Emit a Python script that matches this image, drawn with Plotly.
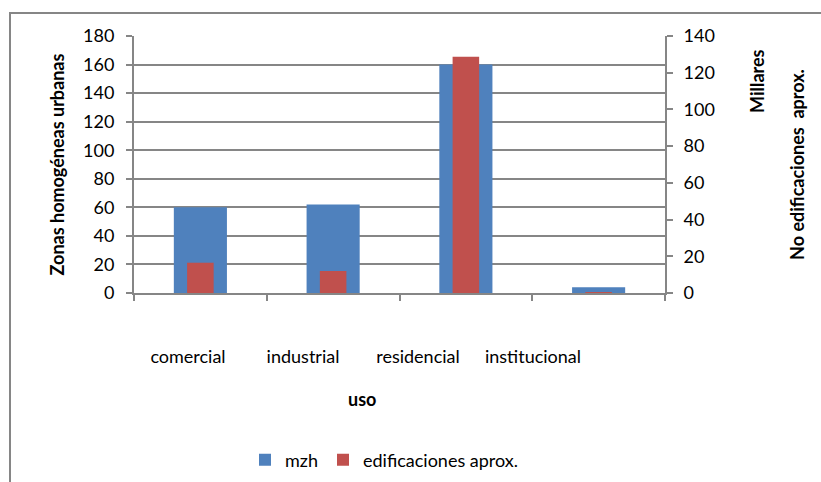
import plotly.graph_objects as go

# Land-use categories
usos = ["comercial", "industrial", "residencial", "institucional"]
# Homogeneous urban zones per use (left axis)
mzh = [60, 62, 160, 4]
# Approximate number of buildings, in thousands (right axis)
edificaciones_miles = [16.5, 12, 128.7, 0.5]

W, H = 821, 482
L, R, T, B = 134, 156, 36, 189
pw, ph = W - L - R, H - T - B

FONT = "Lato"
GRAY = "#868686"
FS = 18

def px_x(x):
    return (x - L) / pw

def px_y(y):
    return (H - B - y) / ph

# Category labels sit on a narrower label band below the plot
lab_first, lab_step, lab_right = 188, 115, 590.5
lab_lo = -(lab_first - L) / lab_step
lab_hi = lab_lo + (lab_right - L) / lab_step

fig = go.Figure()
fig.add_trace(go.Bar(
    x=usos, y=mzh, name="mzh", width=0.4,
    marker=dict(color="#4F81BD", line=dict(width=0)),
    yaxis="y", offsetgroup="a",
))
fig.add_trace(go.Bar(
    x=usos, y=edificaciones_miles, name="edificaciones aprox.", width=0.2,
    marker=dict(color="#C0504D", line=dict(width=0)),
    yaxis="y2", offsetgroup="a",
))
# Carrier for the category label band (no visible marks)
fig.add_trace(go.Scatter(
    x=usos, y=[None] * len(usos), xaxis="x2", yaxis="y3",
    mode="markers", showlegend=False, hoverinfo="skip",
))

fig.update_layout(
    width=W, height=H,
    margin=dict(l=L, r=R, t=T, b=B, autoexpand=False),
    paper_bgcolor="white", plot_bgcolor="rgba(0,0,0,0)",
    font=dict(family=FONT, size=FS, color="black"),
    barmode="overlay",
    showlegend=True,
    legend=dict(
        orientation="h", x=px_x(245), xanchor="left",
        y=px_y(460), yanchor="middle",
        font=dict(size=FS), itemwidth=30, traceorder="normal",
    ),
    xaxis=dict(
        type="category", range=[-0.5, 3.5], automargin=False,
        showline=True, linecolor=GRAY, linewidth=2,
        ticks="outside", tickson="boundaries", ticklen=6, tickcolor=GRAY, tickwidth=2,
        showticklabels=False,
        showgrid=False,
    ),
    xaxis2=dict(
        type="category", anchor="y3", side="bottom", automargin=False,
        domain=[0, (lab_right - L) / pw],
        range=[lab_lo, lab_hi],
        ticks="", showline=False, showgrid=False, zeroline=False,
        ticklabelstandoff=51,
        title=dict(text="<b>uso</b>", standoff=27, font=dict(size=FS)),
    ),
    yaxis=dict(
        range=[0, 180], dtick=20, automargin=False,
        showline=True, linecolor=GRAY, linewidth=2,
        ticks="outside", ticklen=6, tickcolor=GRAY, tickwidth=2,
        ticklabelstandoff=8,
        showgrid=True, gridcolor=GRAY, gridwidth=2, zeroline=False,
        title=dict(text="<b>Zonas homogéneas urbanas</b>", standoff=14, font=dict(size=FS)),
    ),
    yaxis2=dict(
        overlaying="y", side="right", automargin=False,
        range=[0, 140], dtick=20,
        showline=True, linecolor=GRAY, linewidth=2,
        ticks="outside", ticklen=6, tickcolor=GRAY, tickwidth=2,
        ticklabelstandoff=7,
        showgrid=False, zeroline=False,
        title=dict(text="<b>No edificaciones  aprox.</b>", standoff=77, font=dict(size=FS)),
    ),
    yaxis3=dict(
        anchor="x2", domain=[0, 1], range=[0, 1], automargin=False,
        visible=False, showgrid=False, zeroline=False,
    ),
    shapes=[
        dict(type="path", xref="paper", yref="paper",
             path=f"M {px_x(10)} {px_y(490)} L {px_x(10)} {px_y(13)} L {px_x(830)} {px_y(13)}",
             line=dict(color=GRAY, width=2)),
    ],
    annotations=[
        dict(text="<b>Millares</b>", xref="paper", yref="paper",
             x=px_x(757), y=px_y(81), textangle=-90, showarrow=False,
             xanchor="center", yanchor="middle", font=dict(size=FS)),
    ],
)

fig.write_html("out.html")
